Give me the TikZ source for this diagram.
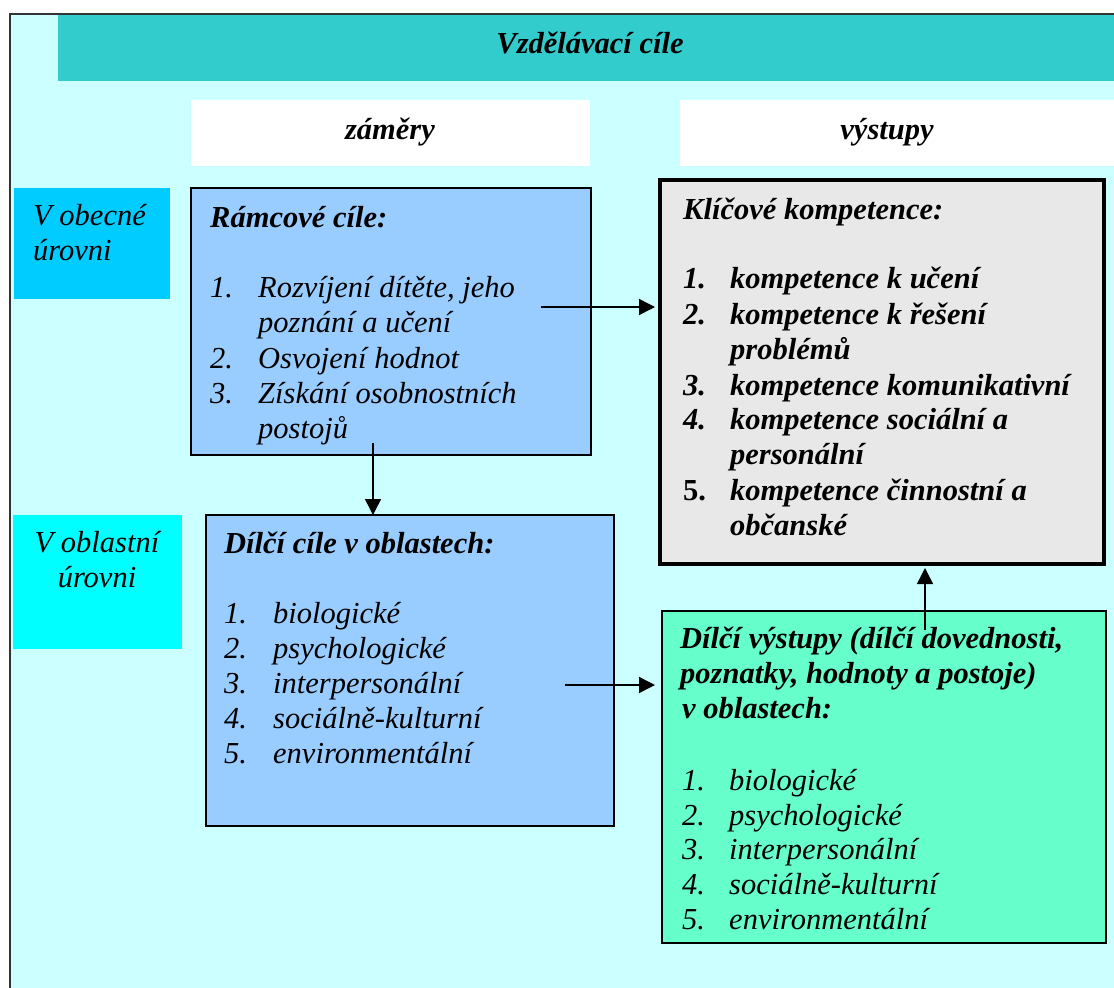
\documentclass[tikz,border=0pt]{standalone}
\usepackage{fontspec}
\setmainfont{Liberation Serif}
\usetikzlibrary{arrows.meta}
\definecolor{bgc}{HTML}{CCFFFF}
\definecolor{banner}{HTML}{33CCCC}
\definecolor{obec}{HTML}{00CCFF}
\definecolor{oblast}{HTML}{00FFFF}
\definecolor{bluebox}{HTML}{99CCFF}
\definecolor{graybox}{HTML}{E8E8E8}
\definecolor{greenbox}{HTML}{66FFCC}
\newcommand\sz{\fontsize{30.5}{35}\selectfont}
\newcommand\tline[5]{\node[#4] (#1) at (#2,#3) {#5};}
\tikzset{
  it/.style={anchor=base west, inner sep=0pt, font=\sz\itshape},
  bit/.style={anchor=base west, inner sep=0pt, font=\sz\bfseries\itshape},
  bup/.style={anchor=base west, inner sep=0pt, font=\sz\bfseries},
  panel/.style={anchor=north west, inner sep=0pt, outer sep=0pt},
  box/.style={panel, draw=black, line width=1.5pt},
  arr/.style={-{Triangle[length=16pt,width=16pt]}, line width=1.5pt},
}
\begin{document}
\begin{tikzpicture}[x=1pt,y=-1pt]
\useasboundingbox (0,0) rectangle (1114,988);
\clip (0,0) rectangle (1114,988);
% background frame
\fill[bgc] (10,14) rectangle (1130,1000);
\draw[line width=2pt, black!80] (10,14) rectangle (1130,1000);
% header panels
\node[panel, fill=banner, minimum width=1072pt, minimum height=66pt] (banner) at (58,15) {};
\node[panel, fill=white, minimum width=399pt, minimum height=66pt] (zambox) at (191,100) {};
\node[panel, fill=white, minimum width=450pt, minimum height=66pt] (vysbox) at (680,100) {};
\node[bit, anchor=base] (title) at (590,53) {Vzdělávací cíle};
\node[bit, anchor=base] (zam) at (390,139) {záměry};
\node[bit, anchor=base] (vys) at (887,139) {výstupy};
% level labels
\node[panel, fill=obec, minimum width=156pt, minimum height=111pt] (obecbox) at (14,188) {};
\tline{ob1}{33}{225}{it}{V obecné}
\tline{ob2}{33}{260}{it}{úrovni}
\node[panel, fill=oblast, minimum width=169pt, minimum height=134pt] (oblbox) at (13,515) {};
\tline{ol1}{97}{552}{it, anchor=base}{V oblastní}
\tline{ol2}{97}{587}{it, anchor=base}{úrovni}
% main boxes
\node[box, fill=bluebox, minimum width=400pt, minimum height=267pt] (ram) at (191,188) {};
\node[box, fill=bluebox, minimum width=408pt, minimum height=311pt] (dil) at (206,515) {};
\node[box, fill=graybox, line width=4pt, minimum width=444pt, minimum height=384pt] (klic) at (660,180) {};
\node[box, fill=greenbox, minimum width=444pt, minimum height=332pt] (dvys) at (662,611) {};
% Ramcove cile
\tline{ramh}{210}{227}{bit}{Rámcové cíle:}
\tline{rn1}{210}{297}{it}{1.}
\tline{rt1}{258}{297}{it}{Rozvíjení dítěte, jeho}
\tline{rt1b}{258}{332}{it}{poznání a učení}
\tline{rn2}{210}{368}{it}{2.}
\tline{rt2}{258}{368}{it}{Osvojení hodnot}
\tline{rn3}{210}{403}{it}{3.}
\tline{rt3}{258}{403}{it}{Získání osobnostních}
\tline{rt3b}{258}{438}{it}{postojů}
% Dilci cile
\tline{dilh}{224}{553}{bit}{Dílčí cíle v oblastech:}
\tline{dn1}{224}{623}{it}{1.}
\tline{dt1}{273}{623}{it}{biologické}
\tline{dn2}{224}{658}{it}{2.}
\tline{dt2}{273}{658}{it}{psychologické}
\tline{dn3}{224}{693}{it}{3.}
\tline{dt3}{273}{693}{it}{interpersonální}
\tline{dn4}{224}{728}{it}{4.}
\tline{dt4}{273}{728}{it}{sociálně-kulturní}
\tline{dn5}{224}{763}{it}{5.}
\tline{dt5}{273}{763}{it}{environmentální}
% Klicove kompetence
\tline{klh}{683}{219}{bit}{Klíčové kompetence:}
\tline{kn1}{683}{288}{bit}{1.}
\tline{kt1}{730}{288}{bit}{kompetence k učení}
\tline{kn2}{683}{324}{bit}{2.}
\tline{kt2}{730}{324}{bit}{kompetence k řešení}
\tline{kt2b}{730}{359}{bit}{problémů}
\tline{kn3}{683}{395}{bit}{3.}
\tline{kt3}{730}{395}{bit}{kompetence komunikativní}
\tline{kn4}{683}{429}{bit}{4.}
\tline{kt4}{730}{429}{bit}{kompetence sociální a}
\tline{kt4b}{730}{464}{bit}{personální}
\tline{kn5}{683}{500}{bup}{5.}
\tline{kt5}{730}{500}{bit}{kompetence činnostní a}
\tline{kt5b}{730}{535}{bit}{občanské}
% Dilci vystupy
\tline{dvh1}{680}{648}{bit}{Dílčí výstupy (dílčí dovednosti,}
\tline{dvh2}{680}{683}{bit}{poznatky, hodnoty a postoje)}
\tline{dvh3}{682}{718}{bit}{v oblastech:}
\tline{vn1}{682}{790}{it}{1.}
\tline{vt1}{729}{790}{it}{biologické}
\tline{vn2}{682}{825}{it}{2.}
\tline{vt2}{729}{825}{it}{psychologické}
\tline{vn3}{682}{859}{it}{3.}
\tline{vt3}{729}{859}{it}{interpersonální}
\tline{vn4}{682}{894}{it}{4.}
\tline{vt4}{729}{894}{it}{sociálně-kulturní}
\tline{vn5}{682}{929}{it}{5.}
\tline{vt5}{729}{929}{it}{environmentální}
% arrows
\coordinate (a1) at (541,307);
\coordinate (a2) at (373,443);
\coordinate (a3) at (565,685);
\coordinate (a4) at (925,630);
\draw[arr, shorten >=5pt] (a1) -- (a1 -| klic.west);
\draw[arr] (a2) -- (a2 |- dil.north);
\draw[arr, shorten >=7pt] (a3) -- (a3 -| dvys.west);
\draw[arr, shorten >=4pt] (a4) -- (a4 |- klic.south);
\end{tikzpicture}
\end{document}
